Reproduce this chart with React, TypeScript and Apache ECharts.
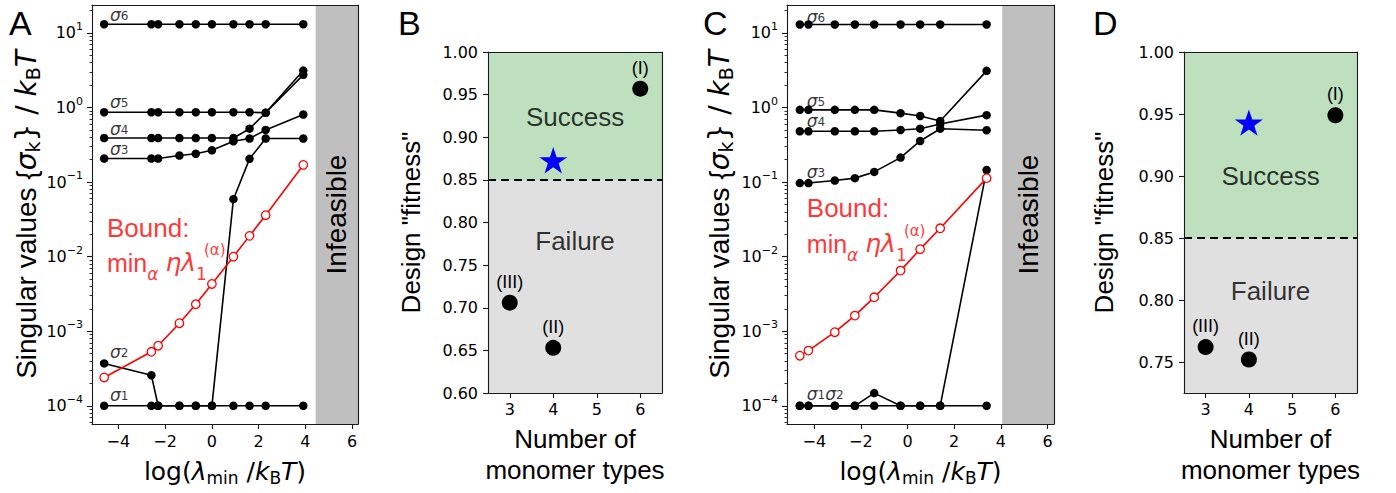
import React, { useEffect, useRef } from "react";
import * as echarts from "echarts";

// ---------- Panel A data ----------
const xA = [-4.61, -2.59, -2.3, -1.39, -0.69, 0.0, 0.92, 1.61, 2.3, 3.91];
const sigmaA1 = [1e-4, 1e-4, 1e-4, 1e-4, 1e-4, 1e-4, 1e-4, 1e-4, 1e-4, 1e-4];
const sigmaA2 = [3.7e-4, 2.57e-4, 1e-4, 1e-4, 1e-4, 1e-4, 0.059, 0.205, 0.384, 0.384];
const sigmaA3 = [0.207, 0.207, 0.207, 0.227, 0.24, 0.267, 0.353, 0.384, 0.5, 0.805];
const sigmaA4 = [0.39, 0.39, 0.39, 0.39, 0.39, 0.39, 0.39, 0.52, 0.85, 2.74];
const sigmaA5 = [0.865, 0.865, 0.865, 0.865, 0.865, 0.865, 0.865, 0.865, 0.85, 3.13];
const sigmaA6 = [13.1, 13.1, 13.1, 13.1, 13.1, 13.1, 13.1, 13.1, 13.1, 13.1];
const boundA = [2.4e-4, 5.3e-4, 6.4e-4, 1.28e-3, 2.3e-3, 4.3e-3, 1.0e-2, 0.019, 0.036, 0.17];
const infeasibleA = 4.44;

// ---------- Panel C data ----------
const xC = [-4.62, -4.25, -3.12, -2.26, -1.43, -0.3, 0.54, 1.4, 3.39];
const sigmaC1 = [1e-4, 1e-4, 1e-4, 1e-4, 1e-4, 1e-4, 1e-4, 1e-4, 1e-4];
const sigmaC2 = [1e-4, 1e-4, 1e-4, 1e-4, 1.48e-4, 1e-4, 1e-4, 1e-4, 0.145];
const sigmaC3 = [0.097, 0.097, 0.105, 0.113, 0.137, 0.213, 0.356, 0.52, 0.496];
const sigmaC4 = [0.48, 0.48, 0.48, 0.48, 0.48, 0.5, 0.52, 0.6, 0.79];
const sigmaC5 = [0.93, 0.93, 0.93, 0.93, 0.93, 0.84, 0.77, 0.66, 3.1];
const sigmaC6 = [13.0, 13.0, 13.0, 13.0, 13.0, 13.0, 13.0, 13.0, 13.0];
const boundC = [4.7e-4, 5.5e-4, 9.7e-4, 1.62e-3, 2.85e-3, 6.5e-3, 0.0126, 0.024, 0.113];
const infeasibleC = 4.06;

// ---------- Panels B / D data ----------
const monomerTypes = [3, 4, 6];
const designLabels = ["(III)", "(II)", "(I)"];
const fitnessB = [0.706, 0.653, 0.957];
const fitnessD = [0.762, 0.752, 0.949];
const starB = [4, 0.873];
const starD = [4, 0.943];
const successThreshold = 0.85;

// ---------- Ticks ----------
const xTicksLog = [-4, -2, 0, 2, 4, 6];
const yTicksLog = [1e-4, 1e-3, 1e-2, 1e-1, 1, 10];
const xTicksN = [3, 4, 5, 6];
const yTicksB = [0.6, 0.65, 0.7, 0.75, 0.8, 0.85, 0.9, 0.95, 1.0];
const yTicksD = [0.75, 0.8, 0.85, 0.9, 0.95, 1.0];

const minorLog: number[] = [];
for (let e = -5; e <= 1; e++) {
  for (let m = 2; m <= 9; m++) minorLog.push(m * Math.pow(10, e));
}

const TEXT = "Liberation Sans";
const MATH = "DejaVu Sans";
const BLACK = "#000000";
const RED = "#ff0000";
const AXIS = "#1a1a1a";
const STAR =
  "path://M50,0 L61.8,35.1 L98.9,35.1 L68.9,56.9 L80.3,92.1 L50,70.3 L19.7,92.1 L31.1,56.9 L1.1,35.1 L38.2,35.1 Z";

const axisLineStyle = { color: AXIS, width: 1.1 };

const logRich = {
  b: { fontSize: 16, fontFamily: MATH, color: BLACK, lineHeight: 24, verticalAlign: "middle" },
  s: { fontSize: 11, fontFamily: MATH, color: BLACK, lineHeight: 14, verticalAlign: "top" },
};
const sigmaRich = {
  i: { fontSize: 17, fontFamily: MATH, fontStyle: "italic", color: BLACK, lineHeight: 14, verticalAlign: "middle" },
  s: { fontSize: 12, fontFamily: MATH, color: BLACK, lineHeight: 8, verticalAlign: "bottom" },
};
const boundRich = {
  t: { fontSize: 26, fontFamily: TEXT, color: RED, lineHeight: 28, verticalAlign: "middle" },
};
const minRich = {
  m: { fontSize: 25, fontFamily: TEXT, color: RED, lineHeight: 40, verticalAlign: "middle" },
  a: { fontSize: 17, fontFamily: MATH, fontStyle: "italic", color: RED, lineHeight: 28, verticalAlign: "bottom" },
  e: { fontSize: 25, fontFamily: MATH, fontStyle: "italic", color: RED, lineHeight: 40, verticalAlign: "middle" },
  o: { fontSize: 17, fontFamily: MATH, color: RED, lineHeight: 28, verticalAlign: "bottom", width: 8 },
  p: { fontSize: 15, fontFamily: MATH, color: RED, lineHeight: 14, verticalAlign: "top" },
};
const yTitleRich = {
  t: { fontSize: 28, fontFamily: TEXT, color: BLACK, lineHeight: 32, verticalAlign: "middle" },
  i: { fontSize: 28, fontFamily: MATH, fontStyle: "italic", color: BLACK, lineHeight: 32, verticalAlign: "middle" },
  k: { fontSize: 19, fontFamily: MATH, color: BLACK, lineHeight: 22, verticalAlign: "bottom" },
};
const xTitleRich = {
  n: { fontSize: 25, fontFamily: MATH, color: BLACK, lineHeight: 30, verticalAlign: "middle" },
  i: { fontSize: 25, fontFamily: MATH, fontStyle: "italic", color: BLACK, lineHeight: 30, verticalAlign: "middle" },
  s: { fontSize: 17, fontFamily: MATH, color: BLACK, lineHeight: 20, verticalAlign: "bottom" },
};

const fmtLog = (v: number) => {
  const e = Math.round(Math.log10(v));
  return `{b|10}{s|${e < 0 ? "\u2212" + -e : e}}`;
};
const fmtLin = (v: number) => (v < 0 ? "\u2212" + -v : String(v));

function logXAxis(grid: number, min: number, max: number) {
  return [
    {
      type: "value", gridIndex: grid, position: "bottom", min, max, z: 5,
      axisLine: { show: true, onZero: false, lineStyle: axisLineStyle },
      axisTick: { show: true, length: 5, customValues: xTicksLog, lineStyle: axisLineStyle },
      axisLabel: { customValues: xTicksLog, formatter: fmtLin, fontSize: 16, fontFamily: MATH, color: BLACK, margin: 9 },
      splitLine: { show: false },
      name: "{n|log(}{i|λ}{s|min}{n| /}{i|k}{s|B}{i|T}{n|)}",
      nameLocation: "middle", nameGap: 32,
      nameTextStyle: { fontSize: 25, fontFamily: MATH, color: BLACK, lineHeight: 30, rich: xTitleRich },
    },
    {
      type: "value", gridIndex: grid, position: "top", min, max, z: 5,
      axisLine: { show: true, onZero: false, lineStyle: axisLineStyle },
      axisTick: { show: false }, axisLabel: { show: false }, splitLine: { show: false },
    },
  ];
}

function logYAxes(grid: number, nameGap: number) {
  return [
    {
      type: "log", logBase: 10, gridIndex: grid, position: "left", min: 5.7e-5, max: 23.7, z: 5,
      axisLine: { show: true, onZero: false, lineStyle: axisLineStyle },
      axisTick: { show: true, length: 5, customValues: yTicksLog, lineStyle: axisLineStyle },
      axisLabel: { customValues: yTicksLog, formatter: fmtLog, rich: logRich, margin: 9 },
      splitLine: { show: false },
      name: "{t|Singular values {}{i|σ}{k|k}} / {i|k}{k|B}{i|T}",
      nameLocation: "middle", nameRotate: 90, nameGap,
      nameTextStyle: { fontSize: 28, fontFamily: MATH, color: BLACK, lineHeight: 32, rich: yTitleRich },
    },
    {
      type: "log", logBase: 10, gridIndex: grid, position: "left", min: 5.7e-5, max: 23.7, z: 5,
      axisLine: { show: false, onZero: false },
      axisTick: { show: true, length: 2.5, customValues: minorLog, lineStyle: { color: AXIS, width: 0.9 } },
      axisLabel: { show: false }, splitLine: { show: false },
    },
    {
      type: "value", gridIndex: grid, position: "right", min: 0, max: 1, z: 5,
      axisLine: { show: true, onZero: false, lineStyle: axisLineStyle },
      axisTick: { show: false }, axisLabel: { show: false }, splitLine: { show: false },
    },
  ];
}

function nXAxes(grid: number) {
  return [
    {
      type: "value", gridIndex: grid, position: "bottom", min: 2.5, max: 6.5, z: 5,
      axisLine: { show: true, onZero: false, lineStyle: axisLineStyle },
      axisTick: { show: true, length: 5, customValues: xTicksN, lineStyle: axisLineStyle },
      axisLabel: { customValues: xTicksN, fontSize: 16, fontFamily: MATH, color: BLACK, margin: 8 },
      splitLine: { show: false },
      name: "Number of\nmonomer types",
      nameLocation: "middle", nameGap: 30,
      nameTextStyle: { fontSize: 26, fontFamily: TEXT, color: BLACK, lineHeight: 31 },
    },
    {
      type: "value", gridIndex: grid, position: "top", min: 2.5, max: 6.5, z: 5,
      axisLine: { show: true, onZero: false, lineStyle: axisLineStyle },
      axisTick: { show: false }, axisLabel: { show: false }, splitLine: { show: false },
    },
  ];
}

function fitYAxes(grid: number, min: number, ticks: number[], nameGap: number) {
  return [
    {
      type: "value", gridIndex: grid, position: "left", min, max: 1.0, z: 5,
      axisLine: { show: true, onZero: false, lineStyle: axisLineStyle },
      axisTick: { show: true, length: 5, customValues: ticks, lineStyle: axisLineStyle },
      axisLabel: { customValues: ticks, formatter: (v: number) => v.toFixed(2), fontSize: 16, fontFamily: MATH, color: BLACK, margin: 10 },
      splitLine: { show: false },
      name: 'Design "fitness"',
      nameLocation: "middle", nameRotate: 90, nameGap,
      nameTextStyle: { fontSize: 26, fontFamily: TEXT, color: BLACK },
    },
    {
      type: "value", gridIndex: grid, position: "right", min, max: 1.0, z: 5,
      axisLine: { show: true, onZero: false, lineStyle: axisLineStyle },
      axisTick: { show: false }, axisLabel: { show: false }, splitLine: { show: false },
    },
  ];
}

function sigmaLine(x: number[], y: number[], xi: number, yi: number) {
  return {
    type: "line", xAxisIndex: xi, yAxisIndex: yi, data: x.map((v, i) => [v, y[i]]),
    symbol: "circle", symbolSize: 8.5, showSymbol: true, clip: false, silent: true, z: 3,
    itemStyle: { color: BLACK, opacity: 1 }, lineStyle: { color: BLACK, width: 1.6 },
  };
}

function boundLine(x: number[], y: number[], xi: number, yi: number) {
  return {
    type: "line", xAxisIndex: xi, yAxisIndex: yi, data: x.map((v, i) => [v, y[i]]),
    symbol: "circle", symbolSize: 8.5, showSymbol: true, clip: false, silent: true, z: 4,
    itemStyle: { color: "#ffffff", borderColor: RED, borderWidth: 1.3, opacity: 1 },
    lineStyle: { color: RED, width: 1.6 },
  };
}

function textMark(xi: number, yi: number, x: number, y: number, text: string, extra: any) {
  return {
    type: "scatter", xAxisIndex: xi, yAxisIndex: yi, data: [[x, y]], symbolSize: 1,
    itemStyle: { color: "rgba(0,0,0,0)" }, silent: true, z: 6,
    label: { show: true, position: "inside", formatter: text, verticalAlign: "middle", ...extra },
  };
}

function infeasibleArea(xi: number, yi: number, from: number, to: number) {
  return {
    type: "line", xAxisIndex: xi, yAxisIndex: yi, data: [], z: 1, silent: true,
    markArea: {
      silent: true,
      itemStyle: { color: "#bfbfbf", opacity: 1 },
      label: { show: true, position: "inside", rotate: 90, formatter: "Infeasible", fontSize: 28, fontFamily: TEXT, color: BLACK },
      data: [[{ xAxis: from }, { xAxis: to }]],
    },
  };
}

function regionSeries(xi: number, yi: number, min: number) {
  return {
    type: "line", xAxisIndex: xi, yAxisIndex: yi, data: [], z: 1, silent: true,
    markArea: {
      silent: true,
      label: { show: false },
      data: [
        [{ yAxis: successThreshold, itemStyle: { color: "#bfe0bf", opacity: 1 } }, { yAxis: 1.0 }],
        [{ yAxis: min, itemStyle: { color: "#e0e0e0", opacity: 1 } }, { yAxis: successThreshold }],
      ],
    },
    markLine: {
      silent: true, symbol: ["none", "none"], label: { show: false },
      lineStyle: { color: BLACK, type: [8, 5], width: 2, opacity: 1 },
      data: [{ yAxis: successThreshold }],
    },
  };
}

function designPoints(xi: number, yi: number, fit: number[]) {
  return {
    type: "scatter", xAxisIndex: xi, yAxisIndex: yi, z: 5, silent: true,
    data: monomerTypes.map((n, i) => ({ name: designLabels[i], value: [n, fit[i]] })),
    symbol: "circle", symbolSize: 16, itemStyle: { color: BLACK, opacity: 1 },
    label: { show: true, position: "top", distance: 4, formatter: "{b}", fontSize: 18, fontFamily: TEXT, color: BLACK, opacity: 1 },
  };
}

function starPoint(xi: number, yi: number, p: number[]) {
  return {
    type: "scatter", xAxisIndex: xi, yAxisIndex: yi, z: 5, silent: true,
    data: [p], symbol: STAR, symbolSize: 28, symbolKeepAspect: true, itemStyle: { color: "#0000ff", opacity: 1 },
  };
}

function buildOption() {
  const sig = (k: string) => `{i|σ}{s|${k}}`;
  const sigExtra = { align: "left", rich: sigmaRich };
  const minText = "{m|min}{a|α}{m| }{e|ηλ}{o|1}{p|(α)}";
  const series: any[] = [
    // Panel A
    infeasibleArea(0, 0, infeasibleA, 6.25),
    sigmaLine(xA, sigmaA1, 0, 0),
    sigmaLine(xA, sigmaA2, 0, 0),
    sigmaLine(xA, sigmaA3, 0, 0),
    sigmaLine(xA, sigmaA4, 0, 0),
    sigmaLine(xA, sigmaA5, 0, 0),
    sigmaLine(xA, sigmaA6, 0, 0),
    boundLine(xA, boundA, 0, 0),
    textMark(0, 0, -4.36, 17.4, sig("6"), sigExtra),
    textMark(0, 0, -4.36, 1.17, sig("5"), sigExtra),
    textMark(0, 0, -4.36, 0.523, sig("4"), sigExtra),
    textMark(0, 0, -4.36, 0.282, sig("3"), sigExtra),
    textMark(0, 0, -4.36, 5.2e-4, sig("2"), sigExtra),
    textMark(0, 0, -4.36, 1.4e-4, sig("1"), sigExtra),
    textMark(0, 0, -4.49, 0.0242, "{t|Bound:}", { align: "left", rich: boundRich }),
    textMark(0, 0, -4.49, 0.0083, minText, { align: "left", rich: minRich }),
    // Panel B
    regionSeries(2, 3, 0.6),
    designPoints(2, 3, fitnessB),
    starPoint(2, 3, starB),
    textMark(2, 3, 4.5, 0.9235, "Success", { align: "center", fontSize: 26, fontFamily: TEXT, color: BLACK }),
    textMark(2, 3, 4.5, 0.778, "Failure", { align: "center", fontSize: 26, fontFamily: TEXT, color: BLACK }),
    // Panel C
    infeasibleArea(4, 5, infeasibleC, 6.28),
    sigmaLine(xC, sigmaC1, 4, 5),
    sigmaLine(xC, sigmaC2, 4, 5),
    sigmaLine(xC, sigmaC3, 4, 5),
    sigmaLine(xC, sigmaC4, 4, 5),
    sigmaLine(xC, sigmaC5, 4, 5),
    sigmaLine(xC, sigmaC6, 4, 5),
    boundLine(xC, boundC, 4, 5),
    textMark(4, 5, -4.32, 16.6, sig("6"), sigExtra),
    textMark(4, 5, -4.32, 1.23, sig("5"), sigExtra),
    textMark(4, 5, -4.32, 0.655, sig("4"), sigExtra),
    textMark(4, 5, -4.32, 0.136, sig("3"), sigExtra),
    textMark(4, 5, -4.32, 1.42e-4, `${sig("1")}${sig("2")}`, sigExtra),
    textMark(4, 5, -4.32, 0.0444, "{t|Bound:}", { align: "left", rich: boundRich }),
    textMark(4, 5, -4.32, 0.015, minText, { align: "left", rich: minRich }),
    // Panel D
    regionSeries(6, 8, 0.725),
    designPoints(6, 8, fitnessD),
    starPoint(6, 8, starD),
    textMark(6, 8, 4.5, 0.9, "Success", { align: "center", fontSize: 26, fontFamily: TEXT, color: BLACK }),
    textMark(6, 8, 4.5, 0.807, "Failure", { align: "center", fontSize: 26, fontFamily: TEXT, color: BLACK }),
  ];

  const letter = (t: string, left: number) => ({
    type: "text", left, top: 6, z: 10,
    style: { text: t, fontSize: 34, fontFamily: TEXT, fill: BLACK },
  });

  return {
    animation: false,
    backgroundColor: "#ffffff",
    textStyle: { fontFamily: TEXT },
    grid: [
      { left: 92, top: 5, width: 266, height: 419, outerBoundsMode: "none", containLabel: false },
      { left: 488, top: 52, width: 174, height: 341, outerBoundsMode: "none", containLabel: false },
      { left: 787, top: 5, width: 267, height: 419, outerBoundsMode: "none", containLabel: false },
      { left: 1184, top: 52, width: 173, height: 341, outerBoundsMode: "none", containLabel: false },
    ],
    xAxis: [
      ...logXAxis(0, -5.13, 6.25),
      ...nXAxes(1),
      ...logXAxis(2, -5.17, 6.28),
      ...nXAxes(3),
    ],
    yAxis: [
      ...logYAxes(0, 48),
      ...fitYAxes(1, 0.6, yTicksB, 64),
      ...logYAxes(2, 52),
      ...fitYAxes(3, 0.725, yTicksD, 67),
    ],
    graphic: [letter("A", 9), letter("B", 398), letter("C", 703), letter("D", 1093)],
    series,
  };
}

export default function App() {
  const ref = useRef<HTMLDivElement>(null);
  useEffect(() => {
    if (!ref.current) return;
    const chart = echarts.init(ref.current, undefined, { renderer: "svg" });
    chart.setOption(buildOption() as any);
    return () => chart.dispose();
  }, []);
  return (
    <div
      ref={ref}
      style={{ position: "absolute", left: 0, top: 0, width: 1396, height: 493, background: "#ffffff" }}
    />
  );
}
